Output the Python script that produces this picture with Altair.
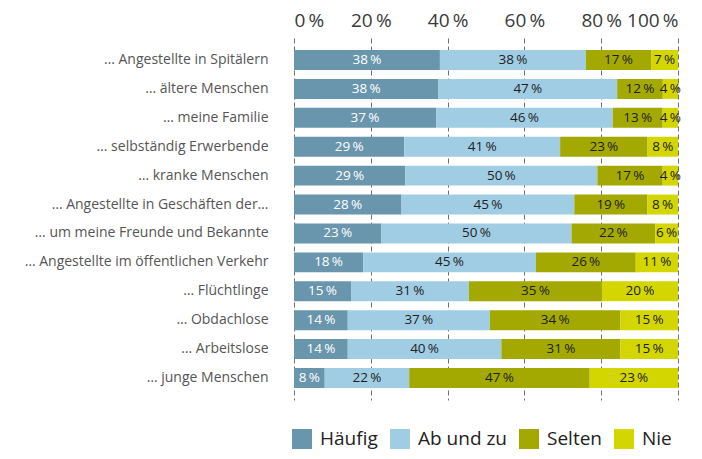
import altair as alt
import pandas as pd

cats = [
    "… Angestellte in Spitälern",
    "… ältere Menschen",
    "… meine Familie",
    "… selbständig Erwerbende",
    "… kranke Menschen",
    "… Angestellte in Geschäften der…",
    "… um meine Freunde und Bekannte",
    "… Angestellte im öffentlichen Verkehr",
    "… Flüchtlinge",
    "… Obdachlose",
    "… Arbeitslose",
    "… junge Menschen",
]
series = ["Häufig", "Ab und zu", "Selten", "Nie"]
haeufig = [38, 38, 37, 29, 29, 28, 23, 18, 15, 14, 14, 8]
abundzu = [38, 47, 46, 41, 50, 45, 50, 45, 31, 37, 40, 22]
selten = [17, 12, 13, 23, 17, 19, 22, 26, 35, 34, 31, 47]
nie = [7, 4, 4, 8, 4, 8, 6, 11, 20, 15, 15, 23]
colors = ["#6996ad", "#a1cde4", "#a3a900", "#d3d600"]
x_ticks = [0, 0.2, 0.4, 0.6, 0.8, 1.0]

rows = []
for s_i, (s, vals) in enumerate(zip(series, [haeufig, abundzu, selten, nie])):
    for c, v in zip(cats, vals):
        rows.append({"cat": c, "series": s, "idx": s_i, "value": v,
                     "label": f"{v}\u2009%"})
df = pd.DataFrame(rows)

FONT = "Open Sans"

base = alt.Chart(df).transform_stack(
    stack="value", groupby=["cat"], as_=["s0", "s1"], offset="normalize",
    sort=[alt.SortField("idx", order="ascending")]
).transform_calculate(mid="(datum.s0 + datum.s1) / 2")

y_enc = alt.Y("cat:N", sort=cats, title=None,
              scale=alt.Scale(paddingInner=0.31, paddingOuter=0.416),
              axis=alt.Axis(ticks=False, domain=False, labelLimit=320,
                            labelPadding=26, labelFontSize=14,
                            labelColor="#555555", labelFont=FONT))

bars = base.mark_bar().encode(
    x=alt.X("s0:Q", scale=alt.Scale(domain=[0, 1], nice=False), title=None,
            axis=alt.Axis(orient="top", values=x_ticks, ticks=False, domain=False,
                          labelExpr="format(datum.value * 100, 'd') + '\u2009%'",
                          labelFontSize=19, labelColor="#3a3a3a", labelFont=FONT,
                          labelPadding=8, grid=True, gridDash=[5, 3],
                          gridColor="#707070", gridWidth=1)),
    x2="s1:Q",
    y=y_enc,
    color=alt.Color("series:N", scale=alt.Scale(domain=series, range=colors),
                    legend=alt.Legend(orient="none", legendX=-2, legendY=391,
                                      direction="horizontal", title=None,
                                      symbolType="square", symbolSize=400,
                                      symbolStrokeWidth=0, symbolOpacity=1,
                                      labelFontSize=19, labelFont=FONT,
                                      labelColor="#222222", labelOffset=8,
                                      columnPadding=12)),
    order=alt.Order("idx:Q"),
)

text = base.mark_text(fontSize=13.5, font=FONT).encode(
    x=alt.X("mid:Q"),
    y=alt.Y("cat:N", sort=cats),
    text="label:N",
    color=alt.condition(alt.datum.series == "Häufig", alt.value("#ffffff"),
                        alt.value("#1e1e1e")),
)

chart = alt.layer(bars, text).properties(
    width=384, height=362,
    autosize=alt.AutoSizeParams(type="none"),
    padding={"left": 286, "top": 30, "right": 16, "bottom": 52},
).configure_view(stroke=None)

chart.save("out.html", embed_options={"renderer": "svg", "actions": False})
